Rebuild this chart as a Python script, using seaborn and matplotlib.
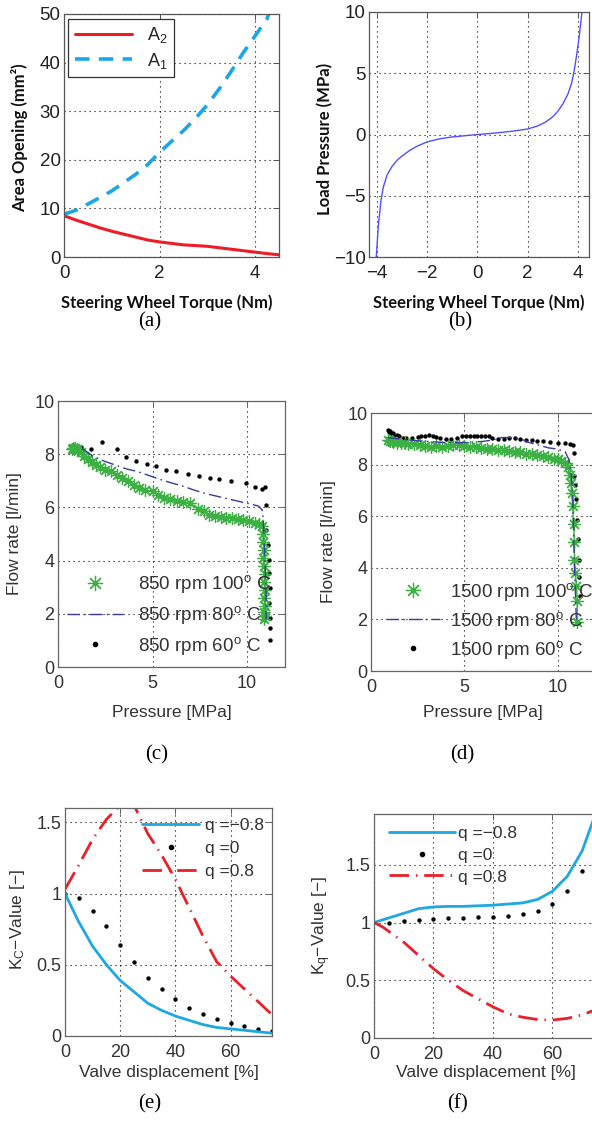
import matplotlib
matplotlib.use("Agg")
import matplotlib.pyplot as plt
import seaborn as sns
from matplotlib.lines import Line2D

# ---------------- data ----------------
# (a) area opening vs steering wheel torque
torque_a2 = [0, 0.25, 0.5, 0.75, 1.0, 1.25, 1.5, 1.75, 2.0, 2.25, 2.5, 2.75,
             3.0, 3.25, 3.5, 3.75, 4.0, 4.25, 4.5]
area_a2 = [8.5, 7.6, 6.8, 6.0, 5.3, 4.7, 4.1, 3.5, 3.1, 2.8, 2.5, 2.35,
           2.2, 1.9, 1.6, 1.3, 1.0, 0.7, 0.45]
torque_a1 = [0, 0.25, 0.5, 0.75, 1.0, 1.25, 1.5, 1.75, 2.0, 2.25, 2.5, 2.75,
             3.0, 3.25, 3.5, 3.75, 4.0, 4.25, 4.3]
area_a1 = [8.8, 9.6, 10.9, 12.2, 13.6, 15.3, 17.0, 19.0, 21.5, 23.8, 26.0, 28.5,
           31.3, 34.6, 38.2, 42.0, 45.5, 49.0, 50.5]

# (b) load pressure vs steering wheel torque
torque_b = [-4.03, -3.95, -3.85, -3.75, -3.6, -3.4, -3.2, -3.0, -2.7, -2.4, -2.0,
            -1.5, -1.0, -0.5, 0, 0.5, 1.0, 1.5, 2.0, 2.4, 2.7, 3.0, 3.2, 3.4,
            3.6, 3.75, 3.85, 3.95, 4.05, 4.16]
load_b = [-10, -7.5, -5.5, -4.3, -3.3, -2.6, -2.1, -1.75, -1.3, -0.95, -0.6,
          -0.35, -0.2, -0.1, 0, 0.08, 0.18, 0.3, 0.45, 0.7, 1.0, 1.45, 1.9, 2.5,
          3.3, 4.2, 5.2, 6.5, 8.0, 10.0]

# (c) flow rate vs pressure, 850 rpm
p_c100 = [0.75, 0.8, 0.85, 0.9, 1.0, 1.2, 1.4, 1.6, 1.8, 2.0, 2.2, 2.5, 2.8, 3.1,
          3.4, 3.7, 4.0, 4.3, 4.6, 5.0, 5.3, 5.6, 5.9, 6.3, 6.6, 7.0, 7.4, 7.7,
          8.0, 8.3, 8.6, 8.9, 9.2, 9.5, 9.8, 10.1, 10.4, 10.6, 10.8, 10.85,
          10.85, 10.9, 10.85, 10.9, 10.95, 10.9, 10.95, 10.9, 10.95, 10.9,
          10.95, 10.9]
q_c100 = [8.2, 8.25, 8.2, 8.22, 8.2, 8.1, 7.95, 7.82, 7.7, 7.6, 7.5, 7.42, 7.35,
          7.22, 7.1, 7.0, 6.85, 6.72, 6.65, 6.62, 6.45, 6.35, 6.3, 6.25, 6.2,
          6.15, 5.95, 5.85, 5.72, 5.68, 5.65, 5.62, 5.6, 5.55, 5.52, 5.48, 5.42,
          5.38, 5.3, 5.0, 4.7, 4.4, 4.1, 3.8, 3.5, 3.2, 2.9, 2.6, 2.3, 2.05,
          1.9, 1.8]
p_c80 = [1.3, 1.8, 2.4, 3.0, 3.6, 4.2, 4.8, 5.4, 6.0, 6.6, 7.2, 7.8, 8.4, 9.0,
         9.6, 10.2, 10.6, 10.8, 10.85, 10.9, 10.95, 11.0, 11.0]
q_c80 = [8.2, 7.95, 7.75, 7.6, 7.45, 7.35, 7.2, 7.05, 6.92, 6.8, 6.65, 6.52,
         6.42, 6.32, 6.22, 6.12, 6.05, 5.9, 5.5, 4.8, 3.8, 2.8, 1.8]
p_c60 = [1.23, 1.76, 2.35, 3.12, 3.62, 4.14, 4.73, 5.2, 5.73, 6.26, 6.88, 7.46,
         8.02, 8.52, 9.17, 9.96, 10.4, 10.76, 10.93, 10.97, 11.02, 11.1, 11.16,
         11.16, 11.2, 11.16, 11.2, 11.23, 11.2]
q_c60 = [8.27, 8.21, 8.46, 8.21, 7.9, 7.74, 7.65, 7.55, 7.4, 7.38, 7.24, 7.18,
         7.09, 7.06, 6.99, 6.92, 6.78, 6.71, 6.78, 6.09, 5.15, 4.59, 4.03, 3.53,
         2.96, 2.4, 1.84, 1.46, 1.03]

# (d) flow rate vs pressure, 1500 rpm
p_d100 = [0.9, 1.0, 1.1, 1.2, 1.4, 1.6, 1.8, 2.0, 2.3, 2.6, 2.9, 3.2, 3.5, 3.8,
          4.1, 4.4, 4.7, 5.0, 5.3, 5.6, 5.9, 6.2, 6.5, 6.8, 7.1, 7.4, 7.7, 8.0,
          8.3, 8.6, 8.9, 9.2, 9.5, 9.8, 10.0, 10.2, 10.4, 10.55, 10.65, 10.7,
          10.75, 10.8, 10.85, 10.9, 10.9, 10.95, 11.0, 11.05, 11.05]
q_d100 = [8.95, 8.9, 8.92, 8.88, 8.85, 8.83, 8.82, 8.8, 8.78, 8.75, 8.72, 8.7,
          8.72, 8.7, 8.74, 8.76, 8.77, 8.72, 8.7, 8.68, 8.65, 8.62, 8.6, 8.58,
          8.55, 8.52, 8.5, 8.47, 8.43, 8.4, 8.36, 8.32, 8.28, 8.22, 8.2, 8.15,
          8.05, 7.9, 7.6, 7.3, 6.9, 6.4, 5.7, 5.0, 4.3, 3.8, 3.3, 2.7, 1.9]
p_d80 = [0.9, 2.0, 3.0, 4.0, 5.0, 6.0, 6.5, 7.0, 7.5, 8.0, 8.5, 9.0, 9.5, 10.0,
         10.4, 10.6, 10.7, 10.8, 10.85, 10.9, 10.95, 11.0]
q_d80 = [9.05, 8.95, 8.9, 8.85, 8.85, 8.9, 8.95, 9.05, 9.05, 9.0, 8.85, 8.75,
         8.65, 8.6, 8.5, 8.2, 7.8, 7.0, 5.5, 4.0, 3.0, 2.0]
p_d60 = [0.9, 0.95, 1.0, 1.05, 1.1, 1.2, 1.3, 1.4, 1.5, 1.7, 1.9, 2.2, 2.5, 2.7,
         2.9, 3.1, 3.3, 3.5, 3.7, 4.0, 4.3, 4.6, 4.9, 5.1, 5.3, 5.5, 5.7, 5.9,
         6.1, 6.3, 6.5, 6.8, 7.1, 7.4, 7.7, 8.0, 8.3, 8.6, 8.9, 9.2, 9.6, 10.0,
         10.4, 10.65, 10.8, 10.85, 10.9, 10.95, 11.0, 11.05, 11.1, 11.12, 11.15,
         11.2]
q_d60 = [9.35, 9.25, 9.3, 9.2, 9.15, 9.22, 9.12, 9.15, 9.1, 9.05, 9.02, 9.05,
         9.08, 9.1, 9.12, 9.15, 9.12, 9.08, 9.05, 9.0, 8.98, 9.02, 9.1, 9.12,
         9.1, 9.12, 9.1, 9.12, 9.1, 9.12, 9.05, 8.98, 9.0, 9.05, 9.02, 8.98,
         8.95, 8.95, 8.92, 8.9, 8.88, 8.85, 8.82, 8.78, 8.75, 8.45, 7.55, 7.2,
         6.65, 5.85, 5.1, 4.3, 3.65, 2.9]

# (e) Kc value vs valve displacement
disp = [0, 5, 10, 15, 20, 25, 30, 35, 40, 45, 50, 55, 60, 65, 70, 75]
kc_neg = [1.0, 0.8, 0.63, 0.5, 0.39, 0.31, 0.23, 0.18, 0.14, 0.11, 0.08, 0.06,
          0.05, 0.04, 0.03, 0.02]
kc_zero = [1.0, 0.97, 0.88, 0.77, 0.64, 0.52, 0.41, 0.33, 0.26, 0.2, 0.155,
           0.12, 0.09, 0.07, 0.05, 0.035]
kc_pos = [1.03, 1.2, 1.38, 1.52, 1.62, 1.62, 1.42, 1.27, 1.1, 0.9, 0.7, 0.52,
          0.42, 0.33, 0.24, 0.15]

# (f) Kq value vs valve displacement
disp_f = [0, 5, 10, 15, 20, 25, 30, 35, 40, 45, 50, 55, 60, 65, 70, 73.5, 75]
kq_neg = [1.0, 1.04, 1.08, 1.12, 1.135, 1.14, 1.14, 1.145, 1.15, 1.16, 1.17,
          1.2, 1.27, 1.4, 1.62, 1.87, 2.0]
disp_fz = [5, 10, 15, 20, 25, 30, 35, 40, 45, 50, 55, 60, 65, 70]
kq_zero = [1.0, 1.01, 1.02, 1.03, 1.035, 1.04, 1.045, 1.05, 1.06, 1.07, 1.1,
           1.16, 1.27, 1.45]
disp_fp = [0, 3, 10, 20, 25, 30, 35, 40, 45, 50, 55, 60, 65, 70, 75]
kq_pos = [1.0, 0.96, 0.83, 0.6, 0.5, 0.41, 0.34, 0.27, 0.21, 0.18, 0.16, 0.155,
          0.17, 0.2, 0.25]

# ---------------- styling ----------------
sns.set_style("white")
plt.rcParams['font.family'] = ['Liberation Sans', 'DejaVu Sans']
plt.rcParams['mathtext.default'] = 'regular'

W, H = 592, 1121
fig = plt.figure(figsize=(W / 100, H / 100), dpi=100)


def make_ax(left, right, top, bottom):
    return fig.add_axes([left / W, 1 - bottom / H, (right - left) / W, (bottom - top) / H])


def style_ax(ax, spine_col, tick_col, size):
    for s in ax.spines.values():
        s.set_color(spine_col)
        s.set_linewidth(0.9)
    ax.tick_params(direction='in', length=4, width=0.7, top=True, right=True,
                   colors=spine_col, labelcolor=tick_col, labelsize=size)
    ax.tick_params(axis='x', pad=6)
    ax.tick_params(axis='y', pad=2.5)
    ax.grid(True, color='black', linestyle=(0, (1, 3.5)), linewidth=0.8)
    ax.set_axisbelow(True)


bold_lab = dict(family='Lato', weight='bold', size=12, color='#111111', va='center')
reg_lab = dict(size=12.5, color='#333333', va='center')

# ---- (a)
ax = make_ax(64, 279, 14, 257)
style_ax(ax, '#555555', '#222222', 13.5)
sns.lineplot(x=torque_a2, y=area_a2, ax=ax, color='#ee1c25', lw=2.2,
             sort=False, estimator=None, label='A$_2$')
sns.lineplot(x=torque_a1, y=area_a1, ax=ax, color='#1ca6e6', lw=2.6,
             sort=False, estimator=None, label='A$_1$', dashes=False)
ax.lines[-1].set_linestyle((0, (4, 2.6)))
ax.set_xticks([0, 2, 4])
ax.set_yticks([0, 10, 20, 30, 40, 50])
ax.set_xlim(0, 4.5)
ax.set_ylim(0, 50)
ax.set_xlabel('Steering Wheel Torque (Nm)', **bold_lab)
ax.set_ylabel('Area Opening (mm²)', **bold_lab)
ax.xaxis.set_label_coords(0.48, -0.19)
ax.yaxis.set_label_coords(-0.205, 0.49)
leg = ax.legend(loc='upper left', bbox_to_anchor=(0.02, 0.98), fontsize=13,
                fancybox=False, edgecolor='#333333', handlelength=3.2,
                borderaxespad=0, labelspacing=0.3, borderpad=0.35, framealpha=1)
leg.get_frame().set_linewidth(0.9)
leg.get_lines()[1].set_linestyle((0, (4, 2.6)))

# ---- (b)
ax = make_ax(369, 589, 12, 257)
style_ax(ax, '#555555', '#222222', 13.5)
sns.lineplot(x=torque_b, y=load_b, ax=ax, color='#5050ff', lw=1.0,
             sort=False, estimator=None)
ax.set_xticks([-4, -2, 0, 2, 4])
ax.set_yticks([-10, -5, 0, 5, 10])
ax.set_xlim(-4.32, 4.44)
ax.set_ylim(-10, 10)
ax.set_xlabel('Steering Wheel Torque (Nm)', **bold_lab)
ax.set_ylabel('Load Pressure (MPa)', **bold_lab)
ax.xaxis.set_label_coords(0.5, -0.185)
ax.yaxis.set_label_coords(-0.2, 0.48)

green = '#3cb043'
navy = '#3a3aa0'
star = (8, 2, 0)


def flow_panel(ax, p100, q100, p80, q80, p60, q60, rpm):
    style_ax(ax, '#666666', '#333333', 13)
    sns.lineplot(x=p100, y=q100, ax=ax, color=green, lw=1.0, sort=False,
                 estimator=None, marker=star, markersize=9, markeredgewidth=0.9,
                 markeredgecolor=green)
    sns.lineplot(x=p80, y=q80, ax=ax, color=navy, lw=1.0, sort=False,
                 estimator=None)
    ax.lines[-1].set_linestyle((0, (9, 3, 1.2, 3)))
    sns.scatterplot(x=p60, y=q60, ax=ax, color='black', s=10, linewidth=0)
    ax.set_xticks([0, 5, 10])
    ax.set_yticks([0, 2, 4, 6, 8, 10])
    ax.set_xlim(0, 12)
    ax.set_ylim(0, 10)
    ax.set_xlabel('Pressure [MPa]', **reg_lab)
    ax.set_ylabel('Flow rate [l/min]', **reg_lab)
    handles = [Line2D([], [], ls='none', marker=star, color=green, markersize=11,
                      markeredgewidth=0.9),
               Line2D([], [], color=navy, lw=1.0, ls=(0, (9, 3, 1.2, 3))),
               Line2D([], [], ls='none', marker='o', color='black', markersize=3)]
    labels = [rpm + ' rpm 100$^{o}$ C', rpm + ' rpm 80$^{o}$ C',
              rpm + ' rpm 60$^{o}$ C']
    return handles, labels


# ---- (c)
ax = make_ax(58, 285, 401, 667)
h, l = flow_panel(ax, p_c100, q_c100, p_c80, q_c80, p_c60, q_c60, '850')
ax.legend(h, l, loc='upper left', bbox_to_anchor=(0.04, 0.352), frameon=False,
          fontsize=13.5, handlelength=3.0, handletextpad=0.8, labelspacing=0.47,
          borderpad=0, borderaxespad=0, labelcolor='#333333')
ax.xaxis.set_label_coords(0.5, -0.17)
ax.yaxis.set_label_coords(-0.19, 0.5)

# ---- (d)
ax = make_ax(371, 595, 413, 671)
h, l = flow_panel(ax, p_d100, q_d100, p_d80, q_d80, p_d60, q_d60, '1500')
ax.legend(h, l, loc='upper left', bbox_to_anchor=(0.067, 0.35), frameon=False,
          fontsize=13.5, handlelength=2.9, handletextpad=0.5, labelspacing=0.37,
          borderpad=0, borderaxespad=0, labelcolor='#333333')
ax.xaxis.set_label_coords(0.5, -0.16)
ax.yaxis.set_label_coords(-0.19, 0.5)

blue_k = '#1ea7e1'
red_k = '#e8202a'
red_dash = (0, (7, 2.5, 0.5, 2.5))


def k_panel(ax, ylabel):
    style_ax(ax, '#666666', '#333333', 13)
    ax.set_xticks([0, 20, 40, 60, 80])
    ax.set_yticks([0, 0.5, 1, 1.5], labels=['0', '0.5', '1', '1.5'])
    ax.set_xlim(0, 75)
    ax.set_xlabel('Valve displacement [%]', **reg_lab)
    ax.set_ylabel(ylabel, **reg_lab)
    handles = [Line2D([], [], color=blue_k, lw=2.0),
               Line2D([], [], ls='none', marker='o', color='black', markersize=3),
               Line2D([], [], color=red_k, lw=2.0, ls=red_dash)]
    return handles, ['q =−0.8', 'q =0', 'q =0.8']


# ---- (e)
ax = make_ax(65, 272, 808, 1036)
h, l = k_panel(ax, 'K$_C$−Value [−]')
sns.lineplot(x=disp, y=kc_neg, ax=ax, color=blue_k, lw=2.0, sort=False, estimator=None)
sns.scatterplot(x=disp, y=kc_zero, ax=ax, color='black', s=10, linewidth=0)
sns.lineplot(x=disp, y=kc_pos, ax=ax, color=red_k, lw=2.0, sort=False, estimator=None)
ax.lines[-1].set_linestyle(red_dash)
ax.set_xlim(0, 75)
ax.set_ylim(0, 1.6)
ax.legend(h, l, loc='upper left', bbox_to_anchor=(0.372, 0.957), frameon=False,
          fontsize=12.5, handlelength=3.3, handletextpad=0.3, labelspacing=0.45,
          borderpad=0, borderaxespad=0, labelcolor='#333333')
ax.xaxis.set_label_coords(0.5, -0.16)
ax.yaxis.set_label_coords(-0.23, 0.51)

# ---- (f)
ax = make_ax(374, 597, 814, 1038)
h, l = k_panel(ax, 'K$_q$−Value [−]')
sns.lineplot(x=disp_f, y=kq_neg, ax=ax, color=blue_k, lw=2.0, sort=False, estimator=None)
sns.scatterplot(x=disp_fz, y=kq_zero, ax=ax, color='black', s=10, linewidth=0)
sns.lineplot(x=disp_fp, y=kq_pos, ax=ax, color=red_k, lw=2.0, sort=False, estimator=None)
ax.lines[-1].set_linestyle(red_dash)
ax.set_xlim(0, 75)
ax.set_ylim(0, 1.94)
ax.legend(h, l, loc='upper left', bbox_to_anchor=(0.067, 0.947), frameon=False,
          fontsize=12.5, handlelength=3.8, handletextpad=0.2, labelspacing=0.38,
          borderpad=0, borderaxespad=0, labelcolor='#333333')
ax.xaxis.set_label_coords(0.5, -0.156)
ax.yaxis.set_label_coords(-0.235, 0.5)

# ---- captions
cap = dict(family='Liberation Serif', size=15, ha='center', va='center', color='black')
for txt, x, y in [('(a)', 150, 322), ('(b)', 460, 322), ('(c)', 157, 755),
                  ('(d)', 462, 755), ('(e)', 150, 1104), ('(f)', 457, 1104)]:
    fig.text(x / W, 1 - y / H, txt, **cap)

fig.savefig('out.png', dpi=100)
